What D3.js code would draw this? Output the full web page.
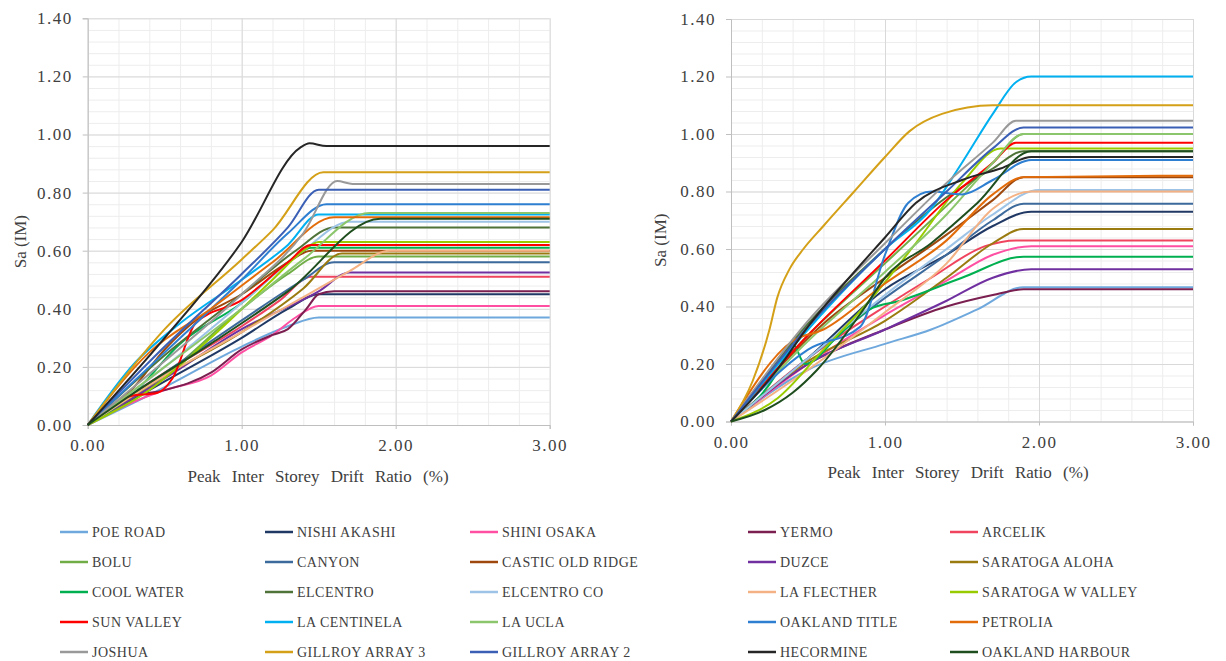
<!DOCTYPE html>
<html>
<head>
<meta charset="utf-8">
<script src="https://cdn.jsdelivr.net/npm/d3@7"></script>
<style>
  body { margin: 0; background: #fff; }
  svg text { font-family: "Liberation Serif", "Times New Roman", serif; fill: #404040; }
</style>
</head>
<body>
<svg id="chart" width="1226" height="661"></svg>
<script>
// series names and colours (legend order)
const names = ["POE ROAD", "NISHI AKASHI", "SHINI OSAKA", "YERMO", "ARCELIK",
  "BOLU", "CANYON", "CASTIC OLD RIDGE", "DUZCE", "SARATOGA ALOHA",
  "COOL WATER", "ELCENTRO", "ELCENTRO CO", "LA FLECTHER", "SARATOGA W VALLEY",
  "SUN VALLEY", "LA CENTINELA", "LA UCLA", "OAKLAND TITLE", "PETROLIA",
  "JOSHUA", "GILLROY ARRAY 3", "GILLROY ARRAY 2", "HECORMINE", "OAKLAND HARBOUR"];
const colors = ["#6fa8dc", "#203864", "#ff4fa3", "#7a1f4f", "#f0435e",
  "#70ad47", "#3d6a9c", "#9e480e", "#7030a0", "#9a7b10",
  "#00b050", "#4f7338", "#9dc3e6", "#f4b183", "#99cc00",
  "#ff0000", "#00b0f0", "#8cc66c", "#2e7fd1", "#e36c0a",
  "#999999", "#d4a017", "#3a5fb5", "#262626", "#1e4d1e"];

const yTicks = [0, 0.2, 0.4, 0.6, 0.8, 1.0, 1.2, 1.4];
const xTicks = [0, 1, 2, 3];

// left panel: [drift %, Sa]
const leftData = [
  [[0,0],[0.5,0.13],[1.0,0.27],[1.3,0.34],[1.5,0.37],[3,0.37]],
  [[0,0],[0.5,0.15],[1.0,0.30],[1.3,0.40],[1.5,0.45],[3,0.45]],
  [[0,0],[0.3,0.08],[0.5,0.12],[0.8,0.17],[1.0,0.25],[1.2,0.31],[1.35,0.37],[1.5,0.41],[3,0.41]],
  [[0,0],[0.3,0.10],[0.5,0.12],[0.8,0.18],[1.0,0.26],[1.2,0.31],[1.3,0.33],[1.42,0.40],[1.5,0.45],[1.6,0.46],[3,0.46]],
  [[0,0],[0.5,0.18],[1.0,0.34],[1.25,0.43],[1.45,0.51],[3,0.51]],
  [[0,0],[0.5,0.17],[1.0,0.40],[1.3,0.52],[1.5,0.58],[3,0.58]],
  [[0,0],[0.5,0.18],[1.0,0.36],[1.4,0.50],[1.6,0.56],[3,0.56]],
  [[0,0],[0.3,0.13],[0.5,0.26],[0.7,0.36],[1.0,0.45],[1.3,0.56],[1.45,0.60],[3,0.60]],
  [[0,0],[0.5,0.16],[1.0,0.33],[1.5,0.46],[1.7,0.525],[3,0.525]],
  [[0,0],[0.5,0.17],[1.0,0.32],[1.4,0.47],[1.65,0.59],[3,0.59]],
  [[0,0],[0.3,0.11],[0.6,0.28],[1.0,0.42],[1.35,0.58],[1.45,0.61],[3,0.61]],
  [[0,0],[0.5,0.24],[1.0,0.45],[1.35,0.60],[1.6,0.68],[3,0.68]],
  [[0,0],[0.5,0.20],[1.0,0.42],[1.4,0.60],[1.7,0.70],[3,0.70]],
  [[0,0],[0.5,0.17],[1.0,0.32],[1.4,0.44],[1.7,0.53],[1.96,0.60],[3,0.60]],
  [[0,0],[0.4,0.12],[0.8,0.30],[1.2,0.50],[1.4,0.60],[1.5,0.63],[3,0.63]],
  [[0,0],[0.28,0.10],[0.45,0.11],[0.55,0.16],[0.7,0.35],[1.0,0.43],[1.3,0.56],[1.45,0.62],[3,0.62]],
  [[0,0],[0.3,0.21],[0.6,0.35],[1.0,0.50],[1.3,0.62],[1.5,0.725],[3,0.725]],
  [[0,0],[0.5,0.20],[1.0,0.40],[1.4,0.57],[1.83,0.73],[3,0.73]],
  [[0,0],[0.5,0.25],[1.0,0.50],[1.3,0.66],[1.55,0.76],[3,0.76]],
  [[0,0],[0.4,0.25],[0.8,0.40],[1.2,0.56],[1.6,0.715],[3,0.715]],
  [[0,0],[0.5,0.22],[1.0,0.45],[1.4,0.66],[1.62,0.84],[1.72,0.83],[3,0.83]],
  [[0,0],[0.5,0.33],[1.0,0.57],[1.2,0.67],[1.53,0.87],[3,0.87]],
  [[0,0],[0.5,0.27],[1.0,0.52],[1.3,0.68],[1.5,0.81],[3,0.81]],
  [[0,0],[0.5,0.30],[1.0,0.63],[1.38,0.955],[1.44,0.97],[1.55,0.96],[3,0.96]],
  [[0,0],[0.3,0.11],[0.8,0.28],[1.3,0.46],[1.9,0.71],[3,0.71]]
];

// right panel
const rightData = [
  [[0,0],[0.5,0.18],[1.0,0.27],[1.3,0.32],[1.6,0.39],[1.9,0.467],[3,0.467]],
  [[0,0],[0.5,0.22],[1.0,0.46],[1.4,0.58],[1.7,0.68],[1.95,0.73],[3,0.73]],
  [[0,0],[0.5,0.20],[1.0,0.37],[1.4,0.49],[1.7,0.58],[1.95,0.61],[3,0.61]],
  [[0,0],[0.5,0.20],[1.0,0.32],[1.4,0.40],[1.7,0.44],[1.9,0.46],[3,0.46]],
  [[0,0],[0.5,0.22],[1.0,0.40],[1.3,0.50],[1.65,0.61],[1.85,0.63],[3,0.63]],
  [[0,0],[0.5,0.30],[1.0,0.55],[1.4,0.75],[1.7,0.90],[1.9,1.0],[3,1.0]],
  [[0,0],[0.5,0.22],[1.0,0.43],[1.4,0.58],[1.7,0.70],[1.9,0.757],[3,0.757]],
  [[0,0],[0.3,0.18],[0.6,0.34],[1.0,0.50],[1.4,0.65],[1.7,0.77],[1.9,0.85],[3,0.85]],
  [[0,0],[0.5,0.20],[1.0,0.32],[1.4,0.42],[1.7,0.50],[1.95,0.53],[3,0.53]],
  [[0,0],[0.5,0.21],[1.0,0.35],[1.4,0.50],[1.7,0.62],[1.9,0.67],[3,0.67]],
  [[0,0],[0.3,0.17],[0.4,0.27],[0.48,0.20],[0.7,0.30],[0.9,0.39],[1.1,0.42],[1.5,0.50],[1.9,0.573],[3,0.573]],
  [[0,0],[0.5,0.34],[1.0,0.60],[1.4,0.78],[1.7,0.88],[1.9,0.94],[3,0.94]],
  [[0,0],[0.5,0.22],[1.0,0.44],[1.4,0.60],[1.7,0.72],[2.0,0.805],[3,0.805]],
  [[0,0],[0.5,0.18],[1.0,0.38],[1.4,0.55],[1.7,0.74],[1.95,0.80],[3,0.80]],
  [[0,0],[0.3,0.08],[0.6,0.25],[0.9,0.42],[1.2,0.62],[1.5,0.83],[1.75,0.95],[3,0.95]],
  [[0,0],[0.5,0.30],[1.0,0.56],[1.4,0.77],[1.7,0.90],[1.85,0.97],[3,0.97]],
  [[0,0],[0.5,0.32],[1.0,0.60],[1.3,0.74],[1.5,0.90],[1.7,1.07],[1.85,1.18],[1.95,1.20],[3,1.20]],
  [[0,0],[0.5,0.28],[1.0,0.52],[1.4,0.72],[1.7,0.90],[1.9,1.0],[3,1.0]],
  [[0,0],[0.5,0.25],[0.84,0.33],[1.0,0.58],[1.15,0.76],[1.3,0.80],[1.5,0.79],[1.7,0.84],[1.95,0.91],[3,0.91]],
  [[0,0],[0.4,0.28],[0.6,0.32],[1.0,0.48],[1.4,0.63],[1.7,0.79],[1.9,0.85],[3,0.855]],
  [[0,0],[0.5,0.35],[1.0,0.62],[1.4,0.83],[1.7,0.97],[1.85,1.046],[3,1.046]],
  [[0,0],[0.14,0.14],[0.25,0.32],[0.3,0.43],[0.38,0.53],[0.47,0.60],[0.6,0.68],[0.8,0.80],[1.0,0.92],[1.16,1.01],[1.37,1.07],[1.7,1.10],[3,1.10]],
  [[0,0],[0.5,0.33],[1.0,0.60],[1.4,0.80],[1.7,0.95],[1.9,1.023],[3,1.023]],
  [[0,0],[0.3,0.18],[0.5,0.33],[0.8,0.52],[1.0,0.64],[1.2,0.76],[1.5,0.84],[1.75,0.88],[1.95,0.92],[3,0.92]],
  [[0,0],[0.22,0.04],[0.4,0.10],[0.56,0.18],[0.86,0.39],[1.0,0.50],[1.3,0.62],[1.6,0.76],[1.95,0.94],[3,0.94]]
];

const svg = d3.select("#chart");

function drawPanel(data, x0, x1, y0, y1, titleX, titleY, labelX) {
  const x = d3.scaleLinear().domain([0, 3]).range([x0, x1]);
  const y = d3.scaleLinear().domain([0, 1.4]).range([y0, y1]);
  const g = svg.append("g");

  // minor grid
  g.append("g").call(d3.axisLeft(y).tickValues(d3.range(0, 1.4001, 0.04)).tickSize(-(x1 - x0)).tickFormat(""))
    .attr("transform", `translate(${x0},0)`)
    .call(a => a.select(".domain").remove())
    .selectAll("line").attr("stroke", "#ededed");
  g.append("g").call(d3.axisBottom(x).tickValues(d3.range(0, 3.001, 0.2)).tickSize(-(y0 - y1)).tickFormat(""))
    .attr("transform", `translate(0,${y0})`)
    .call(a => a.select(".domain").remove())
    .selectAll("line").attr("stroke", "#ededed");
  // major grid
  g.append("g").call(d3.axisLeft(y).tickValues(yTicks).tickSize(-(x1 - x0)).tickFormat(""))
    .attr("transform", `translate(${x0},0)`)
    .call(a => a.select(".domain").remove())
    .selectAll("line").attr("stroke", "#d9d9d9");
  g.append("g").call(d3.axisBottom(x).tickValues(xTicks).tickSize(-(y0 - y1)).tickFormat(""))
    .attr("transform", `translate(0,${y0})`)
    .call(a => a.select(".domain").remove())
    .selectAll("line").attr("stroke", "#d9d9d9");

  // axes
  const ya = g.append("g").attr("transform", `translate(${x0},0)`)
    .call(d3.axisLeft(y).tickValues(yTicks).tickSize(5).tickPadding(10).tickFormat(d3.format(".2f")));
  const xa = g.append("g").attr("transform", `translate(0,${y0})`)
    .call(d3.axisBottom(x).tickValues(xTicks).tickSize(4).tickPadding(10).tickFormat(d3.format(".2f")));
  [ya, xa].forEach(a => {
    a.attr("font-family", '"Liberation Serif", serif');
    a.select(".domain").attr("stroke", "#bfbfbf");
    a.selectAll("line").attr("stroke", "#bfbfbf");
    a.selectAll("text").attr("font-size", 17).attr("fill", "#404040")
      .style("letter-spacing", "1.5px");
  });

  // series
  const line = d3.line().x(d => x(d[0])).y(d => y(d[1])).curve(d3.curveMonotoneX);
  g.append("g").selectAll("path").data(data).join("path")
    .attr("d", line)
    .attr("fill", "none")
    .attr("stroke", (d, i) => colors[i])
    .attr("stroke-width", 2);

  // titles
  g.append("text").attr("x", titleX).attr("y", titleY).attr("text-anchor", "middle")
    .attr("font-size", 17).style("word-spacing", "7px")
    .text("Peak Inter Storey Drift Ratio (%)");
  g.append("text").attr("transform", `translate(${labelX},${(y0 + y1) / 2 + 20}) rotate(-90)`)
    .attr("text-anchor", "middle").attr("font-size", 17)
    .text("Sa (IM)");
}

drawPanel(leftData, 87.7, 549.7, 425, 18.3, 318, 482, 26);
drawPanel(rightData, 731, 1193, 421.5, 19, 958, 478, 666);

// legend: 5 columns x 5 rows
const legCols = [60, 265, 470, 748, 950];
const legRows = [532, 562, 592, 622, 652];
const leg = svg.append("g").selectAll("g").data(names).join("g")
  .attr("transform", (d, i) => `translate(${legCols[i % 5]},${legRows[Math.floor(i / 5)]})`);
leg.append("line").attr("x1", 0).attr("x2", 28).attr("stroke", (d, i) => colors[i]).attr("stroke-width", 2.5);
leg.append("text").attr("x", 32).attr("dy", "0.35em").attr("font-size", 14)
  .style("letter-spacing", "0.5px").text(d => d);
</script>
</body>
</html>
